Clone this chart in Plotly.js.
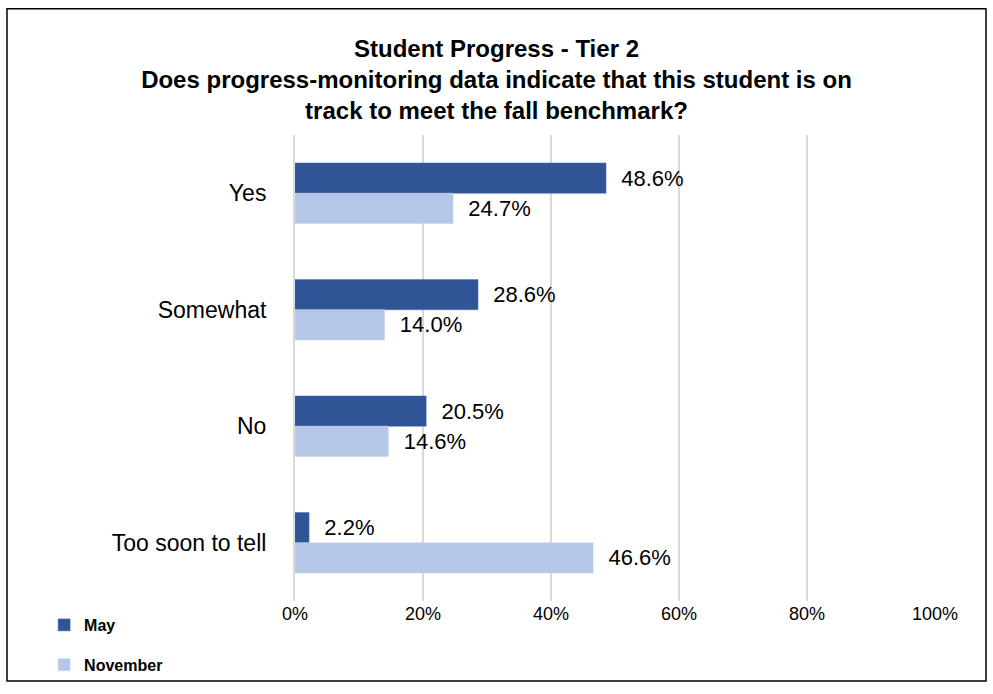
<!DOCTYPE html>
<html>
<head>
<meta charset="utf-8">
<script src="https://cdn.plot.ly/plotly-3.0.1.min.js"></script>
<style>
html,body{margin:0;padding:0;background:#fff;}
#chart{width:993px;height:694px;}
</style>
</head>
<body>
<div id="chart"></div>
<script>
const categories = ["Yes", "Somewhat", "No", "Too soon to tell"];
const mayValues = [48.6, 28.6, 20.5, 2.2];
const novemberValues = [24.7, 14.0, 14.6, 46.6];
const seriesNames = ["May", "November"];
const tickValues = [0, 20, 40, 60, 80, 100];
const tickLabels = ["0%", "20%", "40%", "60%", "80%", "100%"];

const FONT = "Liberation Sans, Arial, sans-serif";

const traces = [
  {
    type: "bar", orientation: "h", name: seriesNames[0],
    y: categories, x: mayValues,
    marker: {color: "#2F5597", line: {color: "#4a6fae", width: 0.5}},
    text: mayValues.map(v => "\u00a0\u00a0" + v.toFixed(1) + "%"),
    textposition: "outside", cliponaxis: false,
    textfont: {family: FONT, size: 22, color: "#000"},
    legendgroup: "a", hoverinfo: "x+y"
  },
  {
    type: "bar", orientation: "h", name: seriesNames[1],
    y: categories, x: novemberValues,
    marker: {color: "#B4C7E7", line: {color: "#c6d4ec", width: 0.5}},
    text: novemberValues.map(v => "\u00a0\u00a0" + v.toFixed(1) + "%"),
    textposition: "outside", cliponaxis: false,
    textfont: {family: FONT, size: 22, color: "#000"},
    legendgroup: "b", hoverinfo: "x+y"
  }
];

const layout = {
  width: 993, height: 694,
  paper_bgcolor: "#fff", plot_bgcolor: "#fff",
  font: {family: FONT, color: "#000"},
  margin: {l: 295, r: 58, t: 135, b: 87, pad: 0},
  title: {
    text: "<b>Student Progress - Tier 2<br>Does progress-monitoring data indicate that this student is on<br>track to meet the fall benchmark?</b>",
    font: {family: FONT, size: 24, color: "#000"},
    x: 0.5, xanchor: "center", xref: "container",
    y: 0.918, yanchor: "top", yref: "container"
  },
  barmode: "group",
  bargap: 0.48,
  bargroupgap: 0,
  xaxis: {
    range: [0, 100], tickvals: tickValues, ticktext: tickLabels,
    showgrid: true, gridcolor: "#d9d9d9", gridwidth: 2,
    zeroline: false, showline: false, ticks: "",
    tickfont: {family: FONT, size: 18, color: "#000"},
    fixedrange: true
  },
  yaxis: {
    autorange: "reversed", showgrid: false, zeroline: false,
    showline: true, linecolor: "#d9d9d9", linewidth: 2,
    ticks: "", ticklabelstandoff: 22,
    tickfont: {family: FONT, size: 23, color: "#000"},
    fixedrange: true
  },
  showlegend: true,
  legend: {
    x: -0.392, xanchor: "left", y: -0.015, yanchor: "top",
    traceorder: "grouped", tracegroupgap: 16,
    font: {family: FONT, size: 16, color: "#000", weight: "bold"},
    itemwidth: 30, bgcolor: "rgba(0,0,0,0)"
  },
  shapes: [
    {type: "rect", xref: "paper", yref: "paper",
     x0: (7 - 295) / 640, x1: (986 - 295) / 640,
     y0: (607 - 688) / 472, y1: (607 - 7) / 472,
     line: {color: "#000", width: 1.5}, fillcolor: "rgba(0,0,0,0)", layer: "below"}
  ]
};

Plotly.newPlot("chart", traces, layout, {displayModeBar: false, staticPlot: true});
</script>
</body>
</html>
